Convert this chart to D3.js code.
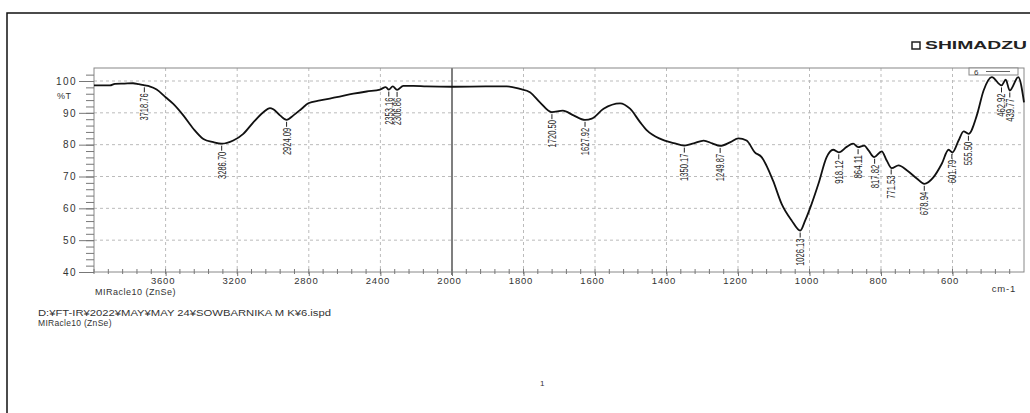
<!DOCTYPE html>
<html>
<head>
<meta charset="utf-8">
<script src="https://cdn.jsdelivr.net/npm/d3@7"></script>
<style>
  body { margin: 0; background: #fff; }
  text { font-family: "Liberation Sans", Arial, sans-serif; }
</style>
</head>
<body>
<script>
// Spectrum trace (wavenumber cm-1, %T)
const wavenumbers = [4000, 3950, 3911, 3883, 3830, 3782, 3750, 3715, 3690, 3650,
  3600, 3557, 3501, 3445, 3389, 3333, 3287, 3222, 3166, 3110,
  3054, 3017, 2998, 2961, 2924, 2886, 2840, 2803, 2737, 2644,
  2551, 2477, 2402, 2370, 2353, 2331, 2307, 2272, 2216, 2142,
  2000, 1900, 1847, 1810, 1782, 1754, 1721, 1690, 1660, 1628,
  1609, 1576, 1530, 1502, 1474, 1454, 1417, 1380, 1350, 1324,
  1296, 1272, 1250, 1221, 1199, 1176, 1153, 1134, 1102, 1078,
  1050, 1026, 1012, 994, 975, 952, 934, 918, 896, 878,
  864, 847, 835, 819, 798, 784, 770, 751, 727, 699,
  679, 653, 630, 611, 600, 583, 569, 555, 532, 513,
  490, 463, 451, 440, 416, 400];
const transmittance = [98.6, 98.6, 98.6, 99.1, 99.2, 99.3, 99.0, 98.6, 98.3, 97.3,
  94.9, 92.8, 89.2, 85.0, 81.8, 80.8, 80.3, 81.3, 83.4, 87.0,
  90.2, 91.5, 91.1, 89.2, 87.8, 89.2, 91.3, 93.0, 93.9, 94.9,
  96.0, 96.7, 97.3, 98.1, 97.3, 98.3, 97.2, 98.5, 98.5, 98.3,
  98.2, 98.3, 98.3, 97.5, 96.5, 93.3, 90.2, 90.7, 89.2, 87.8,
  88.2, 91.3, 93.0, 91.3, 87.1, 84.4, 81.8, 80.5, 79.7, 80.4,
  81.3, 80.4, 79.6, 80.8, 82.0, 81.3, 77.6, 76.1, 68.7, 61.4,
  56.2, 53.0, 56.2, 61.4, 67.7, 76.1, 78.4, 77.6, 79.3, 80.3,
  79.2, 79.7, 78.2, 76.1, 77.9, 75.0, 72.6, 73.5, 71.9, 69.3,
  67.7, 69.8, 74.0, 78.4, 77.6, 81.3, 84.2, 83.4, 89.2, 97.0,
  101.2, 98.6, 100.4, 97.0, 101.2, 93.3];

// Peak picks
const peakLabels = ['3718.76', '3286.70', '2924.09', '2353.16', '2306.86', '1720.50',
  '1627.92', '1350.17', '1249.87', '1026.13', '918.12', '864.11', '817.82',
  '771.53', '678.94', '601.79', '555.50', '462.92', '439.77'];

const xTicks = [3600, 3200, 2800, 2400, 2000, 1800, 1600, 1400, 1200, 1000, 800, 600];
const yTicks = [40, 50, 60, 70, 80, 90, 100];

const w = 1030;
const h = 413;
const pLeft = 94, pRight = 1024, pTop = 68, pBottom = 272;

// Shimadzu style: scale doubles below 2000 cm-1
const x = d3.scaleLinear().domain([4000, 2000, 400]).range([pLeft, 452, pRight]);
const y = d3.scaleLinear().domain([40, 100]).range([pBottom, 81]);

const data = wavenumbers.map((d, i) => ({ wn: d, t: transmittance[i] }));

const svg = d3.select('body').append('svg')
  .attr('width', w)
  .attr('height', h);

// page frame
svg.append('path')
  .attr('d', `M7,${h + 5}V13H${w + 5}`)
  .attr('fill', 'none')
  .attr('stroke', '#111')
  .attr('stroke-width', 1.5);

// grid
svg.append('g').selectAll('line')
  .data(yTicks.filter(d => d > 40))
  .enter().append('line')
  .attr('x1', pLeft).attr('x2', pRight)
  .attr('y1', d => y(d)).attr('y2', d => y(d))
  .attr('stroke', '#bbb')
  .attr('stroke-dasharray', '3,3');

svg.append('g').selectAll('line')
  .data(xTicks.filter(d => d !== 2000))
  .enter().append('line')
  .attr('x1', d => x(d)).attr('x2', d => x(d))
  .attr('y1', pTop).attr('y2', pBottom)
  .attr('stroke', '#bbb')
  .attr('stroke-dasharray', '3,3');

svg.append('line')
  .attr('x1', x(2000)).attr('x2', x(2000))
  .attr('y1', pTop).attr('y2', pBottom + 3)
  .attr('stroke', '#555')
  .attr('stroke-width', 1.5);

// frame
svg.append('rect')
  .attr('x', pLeft).attr('y', pTop)
  .attr('width', pRight - pLeft).attr('height', pBottom - pTop)
  .attr('fill', 'none')
  .attr('stroke', '#888');

// y axis
const yMinor = svg.append('g')
  .attr('transform', `translate(${pLeft},0)`)
  .call(d3.axisLeft(y).tickValues(d3.range(40, 104, 2)).tickSize(8).tickFormat(''));
yMinor.select('.domain').remove();
yMinor.selectAll('line').attr('stroke', '#777');

const yAxis = svg.append('g')
  .attr('transform', `translate(${pLeft},0)`)
  .call(d3.axisLeft(y).tickValues(yTicks).tickSize(15).tickPadding(2));
yAxis.select('.domain').remove();
yAxis.selectAll('line').attr('stroke', '#777');
yAxis.selectAll('text')
  .attr('font-size', 10)
  .attr('font-family', '"Liberation Sans", Arial, sans-serif')
  .attr('fill', '#333')
  .attr('letter-spacing', 1.4);

svg.append('text')
  .attr('x', 57).attr('y', 99)
  .attr('font-size', 9)
  .attr('fill', '#333')
  .attr('letter-spacing', 0.6)
  .text('%T');

// x axis
const xMinorVals = d3.range(4000, 2000, -80).concat(d3.range(2000, 400, -40));
svg.append('g').selectAll('line')
  .data(xMinorVals)
  .enter().append('line')
  .attr('x1', d => x(d)).attr('x2', d => x(d))
  .attr('y1', pBottom - 3).attr('y2', pBottom + 2)
  .attr('stroke', '#777');

const xAxis = svg.append('g')
  .attr('transform', `translate(0,${pBottom})`)
  .call(d3.axisBottom(x).tickValues(xTicks).tickSize(4).tickPadding(1)
    .tickFormat(d3.format('d')));
xAxis.select('.domain').remove();
xAxis.selectAll('line').attr('stroke', '#777');
xAxis.selectAll('text')
  .attr('font-size', 9.5)
  .attr('font-family', '"Liberation Sans", Arial, sans-serif')
  .attr('fill', '#333')
  .attr('letter-spacing', 0.8)
  .attr('dx', -3);

svg.append('text')
  .attr('x', 1016).attr('y', 292)
  .attr('text-anchor', 'end')
  .attr('font-size', 9.5)
  .attr('fill', '#333')
  .attr('letter-spacing', 0.8)
  .text('cm-1');

svg.append('text')
  .attr('x', 95).attr('y', 294.5)
  .attr('font-size', 9)
  .attr('fill', '#333')
  .attr('letter-spacing', 0.5)
  .text('MIRacle10 (ZnSe)');

// spectrum
const line = d3.line()
  .x(d => x(d.wn))
  .y(d => y(d.t))
  .curve(d3.curveMonotoneX);

svg.append('path')
  .datum(data)
  .attr('d', line)
  .attr('fill', 'none')
  .attr('stroke', '#111')
  .attr('stroke-width', 1.8)
  .attr('stroke-linejoin', 'round');

// peak labels, hung under the trace
const asc = data.slice().reverse();
const bis = d3.bisector(d => d.wn).left;
const tAt = wn => {
  const i = Math.max(1, Math.min(asc.length - 1, bis(asc, wn)));
  const a = asc[i - 1], b = asc[i];
  return a.t + (b.t - a.t) * (wn - a.wn) / (b.wn - a.wn);
};

const peaks = svg.append('g').selectAll('g')
  .data(peakLabels)
  .enter().append('g')
  .attr('transform', d => `translate(${x(+d)},${y(tAt(+d)) + 2})`);

peaks.append('line')
  .attr('x1', 0).attr('x2', 0)
  .attr('y1', 0).attr('y2', 5)
  .attr('stroke', '#222');

peaks.append('text')
  .attr('transform', 'translate(0,6) rotate(-90)')
  .attr('text-anchor', 'end')
  .attr('dy', '0.36em')
  .attr('font-size', 11)
  .attr('font-family', '"Liberation Sans Narrow", "DejaVu Sans Condensed", Arial, sans-serif')
  .attr('fill', '#222')
  .attr('textLength', d => d.length * 3.9)
  .attr('lengthAdjust', 'spacingAndGlyphs')
  .text(d => d);

// legend box
const lg = svg.append('g');
lg.append('rect')
  .attr('x', 969).attr('y', pTop)
  .attr('width', 49).attr('height', 7)
  .attr('fill', '#fff')
  .attr('stroke', '#888');
lg.append('text')
  .attr('x', 974).attr('y', pTop + 6.5)
  .attr('font-size', 8)
  .attr('fill', '#333')
  .text('6');
lg.append('line')
  .attr('x1', 986).attr('x2', 1010)
  .attr('y1', pTop + 3.5).attr('y2', pTop + 3.5)
  .attr('stroke', '#666');

// brand
svg.append('rect')
  .attr('x', 912).attr('y', 42)
  .attr('width', 8).attr('height', 7)
  .attr('fill', 'none')
  .attr('stroke', '#222')
  .attr('stroke-width', 1.5);
svg.append('text')
  .attr('x', 925).attr('y', 49)
  .attr('font-size', 10)
  .attr('font-weight', 'bold')
  .attr('fill', '#222')
  .attr('textLength', 102)
  .attr('lengthAdjust', 'spacingAndGlyphs')
  .text('SHIMADZU');

// footer
svg.append('text')
  .attr('x', 38).attr('y', 316)
  .attr('font-size', 8.5)
  .attr('fill', '#333')
  .attr('textLength', 293)
  .attr('lengthAdjust', 'spacingAndGlyphs')
  .text('D:¥FT-IR¥2022¥MAY¥MAY 24¥SOWBARNIKA M K¥6.ispd');
svg.append('text')
  .attr('x', 38).attr('y', 326)
  .attr('font-size', 8.5)
  .attr('fill', '#333')
  .attr('letter-spacing', 0.3)
  .text('MIRacle10 (ZnSe)');
svg.append('text')
  .attr('x', 540).attr('y', 386)
  .attr('font-size', 8)
  .attr('fill', '#333')
  .text('1');
</script>
</body>
</html>
